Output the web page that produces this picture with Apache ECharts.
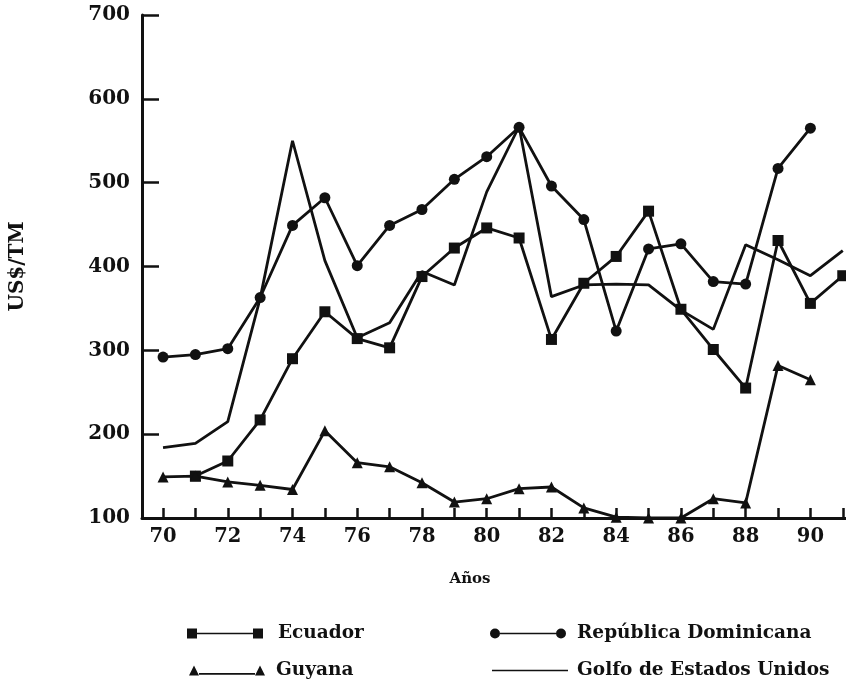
<!DOCTYPE html>
<html>
<head>
<meta charset="utf-8">
<script src="https://cdn.jsdelivr.net/npm/echarts@6/dist/echarts.min.js"></script>
<style>
  html, body { margin: 0; padding: 0; background: #fff; }
  #chart { width: 846px; height: 683px; }
</style>
</head>
<body>
<div id="chart"></div>
<script>
// years 70..91
var years = [70, 71, 72, 73, 74, 75, 76, 77, 78, 79, 80, 81, 82, 83, 84, 85, 86, 87, 88, 89, 90, 91];
var xTicks = [70, 71, 72, 73, 74, 75, 76, 77, 78, 79, 80, 81, 82, 83, 84, 85, 86, 87, 88, 89, 90, 91];
var xLabels = [70, 72, 74, 76, 78, 80, 82, 84, 86, 88, 90];
// prettier-ignore
var ecuador = [null, 150, 168, 217, 290, 346, 314, 303, 388, 422, 446, 434, 313, 380, 412, 466, 349, 301, 255, 431, 356, 389];
// prettier-ignore
var repDominicana = [292, 295, 302, 363, 449, 482, 401, 449, 468, 504, 531, 566, 496, 456, 323, 421, 427, 382, 379, 517, 565, null];
// prettier-ignore
var guyana = [149, 150, 143, 139, 134, 204, 166, 161, 142, 119, 123, 135, 137, 112, 101, 100, 100, 123, 118, 282, 265, null];
// prettier-ignore
var golfo = [184, 189, 215, 362, 550, 407, 315, 333, 394, 378, 489, 567, 364, 378, 379, 378, 348, 325, 426, 408, 389, 419];

var font = "'DejaVu Serif', 'Liberation Serif', serif";
var ink = "#111";

function pairs(vals) {
  var out = [];
  for (var i = 0; i < years.length; i++) {
    if (vals[i] != null) out.push([years[i], vals[i]]);
  }
  return out;
}

var iconSquare = "path://M0,0h10v10h-10z M10,4.2h56v1.6h-56z M66,0h10v10h-10z";
var iconCircle = "path://M0,5a5,5 0 1,0 10,0a5,5 0 1,0 -10,0z M10,4.2h56v1.6h-56z M66,5a5,5 0 1,0 10,0a5,5 0 1,0 -10,0z";
var iconTriangle = "path://M0,10L5,0L10,10z M10,7.6h56v1.6h-56z M66,10L71,0L76,10z";
var iconLine = "path://M0,0L0.01,0L0,0.01z M0,4.2h76v1.6h-76z M75.99,10L76,10L76,9.99z";

// one legend per entry so each sits where the original put it
function legendAt(name, icon, left, top, gap) {
  return {
    left: left,
    top: top,
    itemWidth: 76,
    itemHeight: 10,
    symbolKeepAspect: false,
    textStyle: { fontFamily: font, fontWeight: "bold", fontSize: 18.5, color: ink, padding: [0, 0, 0, gap] },
    data: [{ name: name, icon: icon }],
  };
}

var chartDom = document.getElementById("chart");
var myChart = echarts.init(chartDom);
var option = {
  animation: false,
  backgroundColor: "#fff",
  grid: { left: 142, right: 0, top: 15, bottom: 165 },
  xAxis: {
    type: "value",
    min: 69.35,
    max: 91.1,
    name: "Años",
    nameLocation: "middle",
    nameGap: 54,
    nameTextStyle: { fontFamily: font, fontWeight: "bold", fontSize: 15, color: ink, padding: [0, 48, 0, 0] },
    axisLine: { show: true, lineStyle: { color: ink, width: 3 } },
    axisTick: { show: true, inside: true, length: 10, customValues: xTicks, lineStyle: { color: ink, width: 2.5 } },
    axisLabel: { customValues: xLabels, margin: 9, fontFamily: font, fontWeight: "bold", fontSize: 19.5, color: ink },
    splitLine: { show: false },
  },
  yAxis: {
    type: "value",
    min: 100,
    max: 700,
    interval: 100,
    name: "US$/TM",
    nameLocation: "middle",
    nameGap: 114,
    nameTextStyle: { fontFamily: font, fontWeight: "bold", fontSize: 20, color: ink },
    axisLine: { show: true, lineStyle: { color: ink, width: 3 } },
    axisTick: { show: true, inside: true, length: 17, lineStyle: { color: ink, width: 2.5 } },
    axisLabel: { margin: 12, fontFamily: font, fontWeight: "bold", fontSize: 20, color: ink },
    splitLine: { show: false },
  },
  legend: [
    legendAt("Ecuador", iconSquare, 182, 619, 10),
    legendAt("Guyana", iconTriangle, 184, 656, 6),
    legendAt("República Dominicana", iconCircle, 485, 619, 6),
    legendAt("Golfo de Estados Unidos", iconLine, 487, 656, 4),
  ],
  series: [
    {
      name: "Ecuador",
      type: "line",
      data: pairs(ecuador),
      symbol: "rect",
      symbolSize: 11,
      lineStyle: { color: ink, width: 2.8 },
      itemStyle: { color: ink },
    },
    {
      name: "República Dominicana",
      type: "line",
      data: pairs(repDominicana),
      symbol: "circle",
      symbolSize: 11,
      lineStyle: { color: ink, width: 2.8 },
      itemStyle: { color: ink },
    },
    {
      name: "Guyana",
      type: "line",
      data: pairs(guyana),
      symbol: "triangle",
      symbolSize: 11,
      lineStyle: { color: ink, width: 2.8 },
      itemStyle: { color: ink },
    },
    {
      name: "Golfo de Estados Unidos",
      type: "line",
      data: pairs(golfo),
      symbol: "none",
      lineStyle: { color: ink, width: 2.8 },
      itemStyle: { color: ink },
    },
  ],
};
option && myChart.setOption(option);
</script>
</body>
</html>
